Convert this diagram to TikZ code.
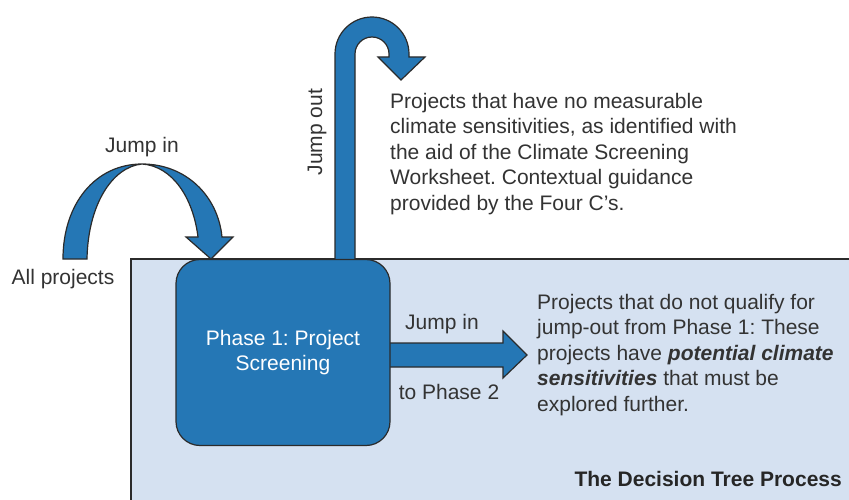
\documentclass[tikz,border=0pt]{standalone}
\usepackage{fontspec}
\setmainfont{Liberation Sans}
\frenchspacing
\definecolor{blk}{HTML}{2577B5}
\definecolor{bgblue}{HTML}{D5E1F1}
\definecolor{txt}{HTML}{333333}
\definecolor{edgec}{HTML}{2B2B2B}
\begin{document}
\begin{tikzpicture}[x=1pt,y=-1pt,
  blockarrow/.style={fill=blk,draw=edgec,line width=1.2pt,line join=miter},
  lbl/.style={text=txt,font=\fontsize{21}{25.5}\selectfont,inner sep=0pt},
  phasebox/.style={fill=blk,draw=edgec,line width=1.2pt,rounded corners=24pt,
    minimum width=214pt,minimum height=186pt,text=white,align=center,
    font=\fontsize{21}{25.5}\selectfont},
]
\useasboundingbox (0,0) rectangle (849,500);
\fill[white] (0,0) rectangle (849,500);
\fill[bgblue] (131,259) rectangle (849,500);
\draw[edgec,line width=1.5pt] (849,259) -- (131,259) -- (131,500);

% right block arrow (drawn before the box)
\coordinate (rtip) at (527,355);
\draw[blockarrow] (380,343) -- (503,343) -- (503,331) -- (rtip) -- (503,378) -- (503,367) -- (380,367) -- cycle;

% jump out arrow
\coordinate (outtip) at (401,80);
\draw[blockarrow] (335,275) -- (335,54) arc[start angle=180,end angle=360,radius=37]
  -- (409,57) -- (425,57) -- (outtip) -- (378,57) -- (389,57) -- (389,54)
  arc[start angle=0,end angle=-180,radius=17] -- (355,275) -- cycle;

% box
\node[phasebox] (phase) at (283,352.5) {Phase 1: Project\\[-1pt]Screening};

% jump in arrow
\coordinate (intip) at (211,259);
\draw[blockarrow] (63,259) .. controls (63,203) and (96,164) .. (142,164)
  .. controls (186,164) and (218,196) .. (222,237) -- (233,237) -- (intip)
  -- (186,237) -- (198,237) .. controls (193,197) and (172,166) .. (142,164)
  .. controls (112,167) and (88,205) .. (87,259) -- cycle;

% labels
\node[lbl] (jin) at (142,147) {Jump in};
\node[lbl] (allp) at (63,279) {All projects};
\node[lbl,rotate=90] (jout) at (317,132) {Jump out};
\node[lbl,align=left,anchor=north west] (outtext) at (390,93) {Projects that have no measurable\\climate sensitivities, as identified with\\the aid of the Climate Screening\\Worksheet. Contextual guidance\\provided by the Four C’s.};
\node[lbl] (jin2) at (442,324) {Jump in};
\node[lbl] (tophase) at (449,392) {to Phase 2};
\node[lbl,align=left,anchor=north west] (intext) at (537,294) {Projects that do not qualify for\\jump-out from Phase 1: These\\projects have \textbf{\textit{potential climate}}\\\textbf{\textit{sensitivities}} that must be\\explored further.};
\node[lbl,anchor=east,font=\bfseries\fontsize{21}{25.5}\selectfont,text=black!85] (title) at (842,479) {The Decision Tree Process};
\end{tikzpicture}
\end{document}
